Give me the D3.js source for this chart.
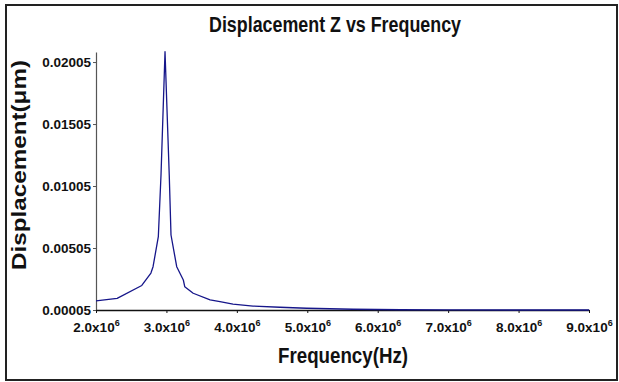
<!DOCTYPE html>
<html>
<head>
<meta charset="utf-8">
<script src="https://cdn.jsdelivr.net/npm/d3@7"></script>
<style>
  body { margin: 0; background: #fff; }
  text { font-family: "Liberation Sans", Arial, sans-serif; font-weight: bold; }
</style>
</head>
<body>
<div id="chart"></div>
<script>
// giá trị (Hz, µm)
const freqHz = [2.0e6, 2.3e6, 2.65e6, 2.78e6, 2.81e6, 2.885e6, 2.923e6, 2.98e6, 3.04e6, 3.065e6,
  3.146e6, 3.24e6, 3.26e6, 3.38e6, 3.62e6, 3.76e6, 3.945e6, 4.23e6, 4.61e6, 4.99e6,
  5.65e6, 6.32e6, 7.0e6, 8.0e6, 9.0e6];
const dispZ = [0.00078, 0.00099, 0.00203, 0.00303, 0.00354, 0.00596, 0.01094, 0.02088, 0.01094, 0.00610,
  0.00354, 0.00247, 0.00193, 0.00140, 0.00086, 0.00072, 0.00053, 0.00037, 0.00027, 0.00019,
  0.00011, 0.00007, 0.00006, 0.00005, 0.00005];
const yTicks = [0.00005, 0.00505, 0.01005, 0.01505, 0.02005];
const xTicks = [2e6, 3e6, 4e6, 5e6, 6e6, 7e6, 8e6, 9e6];

const W = 619, H = 382;
const plot = { left: 96, right: 589, top: 52, bottom: 310 };

const svg = d3.select("#chart").append("svg")
  .attr("width", W).attr("height", H);

// khung ngoài
svg.append("rect")
  .attr("x", 6).attr("y", 5).attr("width", 611).attr("height", 375)
  .attr("fill", "none").attr("stroke", "#222").attr("stroke-width", 2);

const x = d3.scaleLinear().domain([2e6, 9e6]).range([plot.left, plot.right]);
const y = d3.scaleLinear().domain([0.00005, 0.02086]).range([plot.bottom, plot.top]);

// trục Y
const gy = svg.append("g")
  .attr("transform", `translate(${plot.left},0)`)
  .call(d3.axisLeft(y).tickValues(yTicks).tickSize(3).tickSizeOuter(0)
    .tickFormat(d3.format(".5f")));
gy.select(".domain").attr("stroke", "#555").attr("stroke-width", 1.2);
gy.selectAll(".tick line").attr("stroke", "#555");
gy.selectAll(".tick text")
  .attr("x", -5)
  .style("font-size", "13.5px").attr("fill", "#111");

// trục X
const gx = svg.append("g")
  .attr("transform", `translate(0,${plot.bottom})`)
  .call(d3.axisBottom(x).tickValues(xTicks).tickSize(3).tickSizeOuter(0));
gx.select(".domain").attr("stroke", "#111").attr("stroke-width", 1.5);
gx.selectAll(".tick line").attr("stroke", "#111");
gx.selectAll(".tick text").each(function (d) {
  const t = d3.select(this).text("")
    .attr("y", 12).attr("dy", "0.71em")
    .style("font-size", "13.5px").attr("fill", "#111");
  t.append("tspan").text((d / 1e6).toFixed(1) + "x10");
  t.append("tspan").text("6").attr("dy", "-6").style("font-size", "9px");
});

// đường dữ liệu
const data = freqHz.map((f, i) => ({ f, v: dispZ[i] }));
svg.append("path")
  .datum(data)
  .attr("fill", "none")
  .attr("stroke", "#16168a")
  .attr("stroke-width", 1.3)
  .attr("stroke-linejoin", "round")
  .attr("d", d3.line().x(d => x(d.f)).y(d => y(d.v)));

// tiêu đề
svg.append("text")
  .attr("x", 335).attr("y", 32)
  .attr("text-anchor", "middle")
  .attr("textLength", 252).attr("lengthAdjust", "spacingAndGlyphs")
  .style("font-size", "22px").attr("fill", "#111")
  .text("Displacement Z vs Frequency");

svg.append("text")
  .attr("x", 343).attr("y", 363)
  .attr("text-anchor", "middle")
  .attr("textLength", 130).attr("lengthAdjust", "spacingAndGlyphs")
  .style("font-size", "22px").attr("fill", "#111")
  .text("Frequency(Hz)");

svg.append("text")
  .attr("transform", "translate(26,165) rotate(-90)")
  .attr("text-anchor", "middle")
  .attr("textLength", 210).attr("lengthAdjust", "spacingAndGlyphs")
  .style("font-size", "21px").attr("fill", "#111")
  .text("Displacement(μm)");
</script>
</body>
</html>
